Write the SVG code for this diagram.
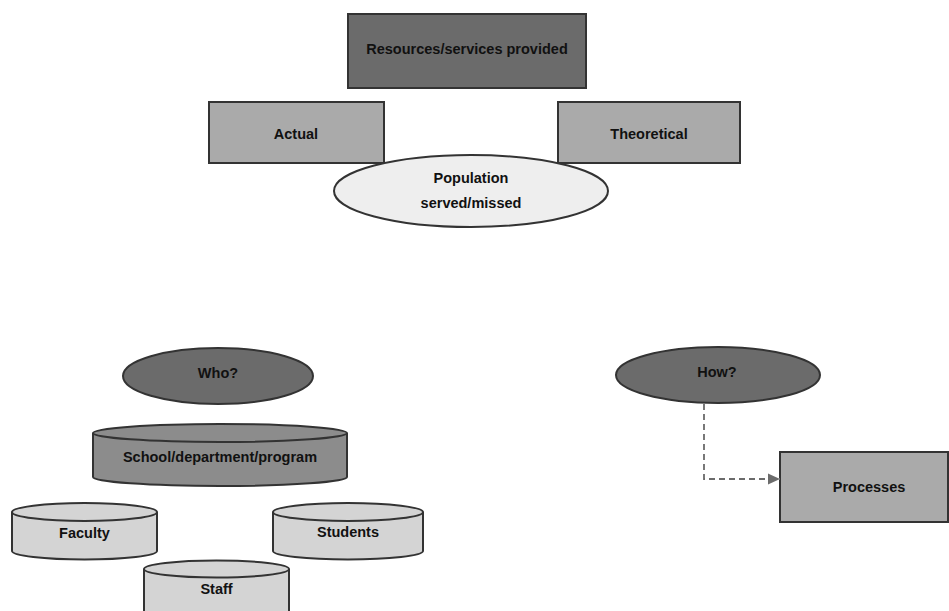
<svg xmlns="http://www.w3.org/2000/svg" width="949" height="611" viewBox="0 0 949 611">
<defs>
<style>
text{font-family:"Liberation Sans",Arial,sans-serif;font-weight:bold;font-size:14.5px;fill:#111;text-anchor:middle;dominant-baseline:central}
.s{stroke:#333;stroke-width:2}
.dark{fill:#6b6b6b}
.mid{fill:#aaaaaa}
.cyl{fill:#8c8c8c}
.light{fill:#d4d4d4}
.pale{fill:#eeeeee}
.conn{fill:none;stroke:#6b6b6b;stroke-width:1.8;stroke-dasharray:6,4}
</style>
<marker id="arr" markerWidth="12" markerHeight="12" refX="12" refY="6" orient="auto" markerUnits="userSpaceOnUse">
<path d="M0,0.5 L12,6 L0,11.5 Z" fill="#6b6b6b"/>
</marker>
</defs>
<rect width="949" height="611" fill="#fff"/>
<g id="resources"><rect class="s dark" x="348" y="14" width="238" height="74"/><text x="467" y="49">Resources/services provided</text></g>
<g id="actual"><rect class="s mid" x="209" y="102" width="175" height="61"/><text x="296" y="134">Actual</text></g>
<g id="theoretical"><rect class="s mid" x="558" y="102" width="182" height="61"/><text x="649" y="134">Theoretical</text></g>
<g id="population"><ellipse class="s pale" cx="471" cy="191" rx="137" ry="36"/><text x="471" y="178">Population</text><text x="471" y="203">served/missed</text></g>
<g id="who"><ellipse class="s dark" cx="218" cy="376" rx="95" ry="28"/><text x="218" y="373">Who?</text></g>
<g id="school"><path class="s cyl" d="M93,433 L93,477 A127,9 0 0 0 347,477 L347,433"/><ellipse class="s cyl" cx="220" cy="433" rx="127" ry="9"/><text x="220" y="457">School/department/program</text></g>
<g id="faculty"><path class="s light" d="M12,512 L12,551 A72.5,8.5 0 0 0 157,551 L157,512"/><ellipse class="s light" cx="84.5" cy="512" rx="72.5" ry="9"/><text x="84.5" y="533">Faculty</text></g>
<g id="students"><path class="s light" d="M273,512 L273,551 A75,8.5 0 0 0 423,551 L423,512"/><ellipse class="s light" cx="348" cy="512" rx="75" ry="9"/><text x="348" y="532">Students</text></g>
<g id="staff"><path class="s light" d="M144,569 L144,612 L289,612 L289,569"/><ellipse class="s light" cx="216.5" cy="569" rx="72.5" ry="8.5"/><text x="216.5" y="589">Staff</text></g>
<g id="how"><ellipse class="s dark" cx="718" cy="375" rx="102" ry="28"/><text x="717" y="372">How?</text></g>
<g id="processes"><rect class="s mid" x="780" y="452" width="168" height="70"/><text x="869" y="487">Processes</text></g>
<g id="connectors"><path class="conn" d="M704,404 L704,479 L780,479" marker-end="url(#arr)"/></g>
</svg>
